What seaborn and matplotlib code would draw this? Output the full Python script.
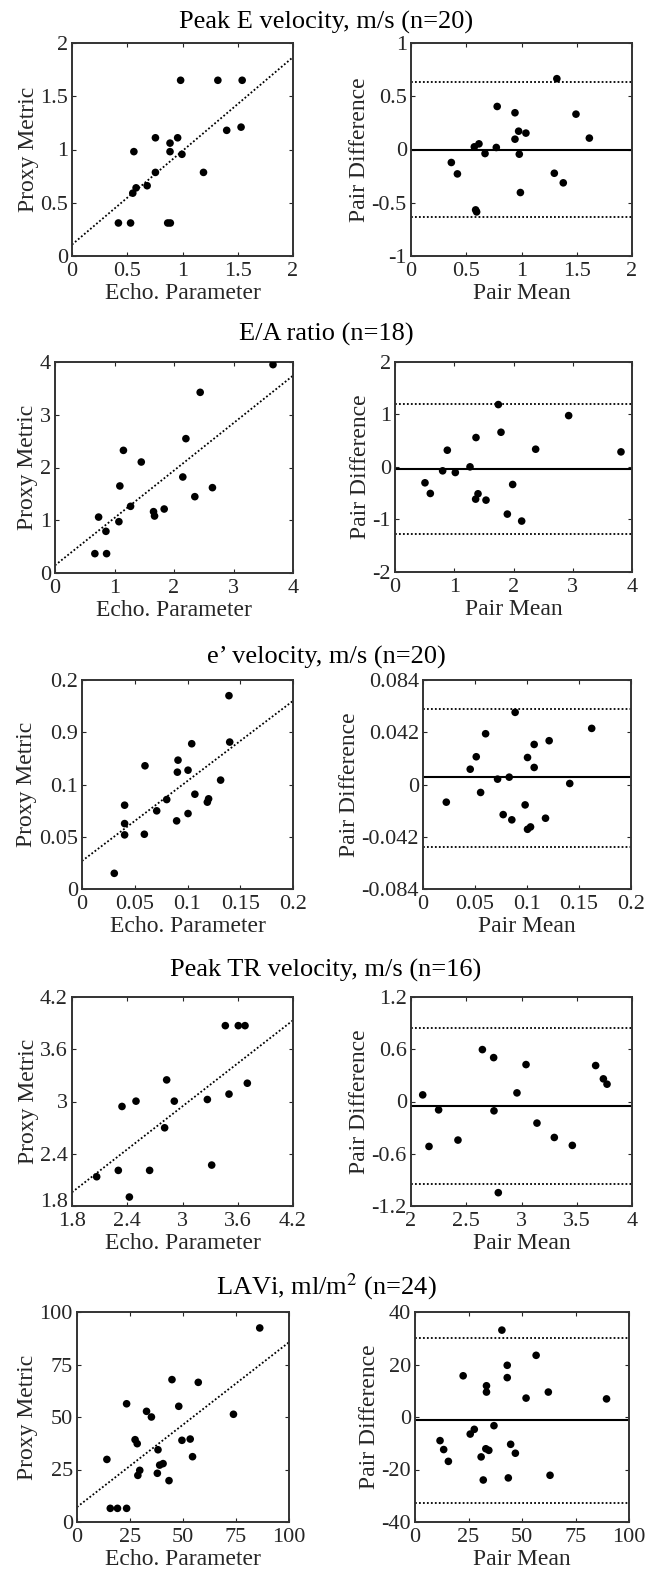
"""
Echo vs proxy metric: scatter with fit line (left) and Bland-Altman (right)
for five echo parameters. Saves out.png.
"""
import matplotlib
matplotlib.use("Agg")
import matplotlib.pyplot as plt
import matplotlib.transforms as mtransforms
import pandas as pd
import seaborn as sns

sns.set_theme(style="ticks")
plt.rcParams["font.family"] = ["Liberation Serif", "DejaVu Serif"]
plt.rcParams["mathtext.fontset"] = "stix"

TXT = "#262626"

# ---- Peak E velocity ----
pe_echo = [0.42, 0.53, 0.55, 0.58, 0.56, 0.68, 0.755, 0.755, 0.866, 0.89,
           0.887, 0.887, 0.956, 0.983, 0.995, 1.19, 1.32, 1.40, 1.53, 1.54]
pe_proxy = [0.31, 0.31, 0.59, 0.64, 0.98, 0.66, 1.11, 0.785, 0.31, 0.31,
            1.06, 0.98, 1.11, 1.65, 0.955, 0.785, 1.65, 1.18, 1.21, 1.65]
pe_mean = [0.365, 0.42, 0.573, 0.615, 0.585, 0.594, 0.67, 0.78, 0.772, 0.941,
           0.941, 0.974, 0.98, 0.99, 1.04, 1.297, 1.32, 1.378, 1.493, 1.614]
pe_diff = [-0.122, -0.229, 0.025, 0.053, -0.567, -0.586, -0.038, 0.404, 0.019, 0.345,
           0.097, 0.172, -0.044, -0.404, 0.154, -0.223, 0.665, -0.313, 0.332, 0.107]
pe_fit = (0.107, 0.88)          # intercept, slope
pe_ba = (0.0, 0.63, -0.635)     # bias, upper, lower

# ---- E/A ratio ----
ea_echo = [0.67, 0.867, 0.733, 0.856, 1.074, 1.09, 1.15, 1.27, 1.45, 1.656,
           1.673, 1.835, 2.148, 2.20, 2.35, 2.44, 2.646, 3.664]
ea_proxy = [0.367, 0.367, 1.06, 0.79, 0.973, 1.65, 2.325, 1.264, 2.104, 1.163,
            1.08, 1.213, 1.82, 2.547, 1.447, 3.425, 1.618, 3.95]
ea_mean = [0.506, 0.596, 0.804, 0.883, 1.018, 1.266, 1.367, 1.361, 1.401, 1.536,
           1.744, 1.789, 1.896, 1.986, 2.138, 2.374, 2.931, 3.814]
ea_diff = [-0.301, -0.504, -0.073, 0.32, -0.105, 0.003, 0.561, -0.612, -0.51, -0.631,
           1.189, 0.662, -0.897, -0.333, -1.03, 0.339, 0.979, 0.288]
ea_fit = (0.145, 0.899)
ea_ba = (-0.041, 1.195, -1.277)

# ---- e' velocity ----
ev_echo = [0.0306, 0.0404, 0.0404, 0.0404, 0.0591, 0.0597, 0.0708, 0.0803, 0.0897, 0.0904,
           0.091, 0.1005, 0.1005, 0.104, 0.107, 0.1188, 0.12, 0.1314, 0.1393, 0.14]
ev_proxy = [0.0150, 0.0802, 0.0626, 0.0518, 0.0524, 0.1179, 0.0748, 0.0856, 0.0652, 0.1118,
            0.1233, 0.1137, 0.0722, 0.139, 0.0907, 0.0831, 0.0863, 0.1042, 0.185, 0.1406]
ev_mean = [0.0224, 0.0454, 0.0512, 0.0554, 0.0602, 0.0717, 0.0771, 0.0829, 0.0854, 0.0886,
           0.0982, 0.1005, 0.1005, 0.1034, 0.1069, 0.1069, 0.1178, 0.1213, 0.1411, 0.1622]
ev_diff = [-0.0142, 0.0123, 0.0223, -0.0064, 0.0408, 0.0043, -0.0242, 0.0059, -0.0284, 0.058,
           -0.0164, 0.0217, -0.036, -0.0341, 0.0137, 0.0322, -0.0271, 0.0352, 0.0008, 0.0451]
ev_fit = (0.0268, 0.766)
ev_ba = (0.0059, 0.0609, -0.0502)

# ---- Peak TR velocity ----
tr_echo = [2.068, 2.303, 2.343, 2.423, 2.495, 2.643, 2.806, 2.828, 2.911, 3.27,
           3.317, 3.465, 3.505, 3.606, 3.679, 3.704]
tr_proxy = [2.136, 2.209, 2.943, 1.903, 3.004, 2.209, 2.698, 3.248, 3.004, 3.023,
            2.27, 3.871, 3.085, 3.871, 3.871, 3.21]
tr_mean = [2.106, 2.163, 2.25, 2.425, 2.646, 2.748, 2.751, 2.79, 2.959, 3.041,
           3.14, 3.297, 3.46, 3.671, 3.741, 3.774]
tr_diff = [0.076, -0.516, -0.096, -0.443, 0.596, 0.504, -0.107, -1.047, 0.099, 0.424,
           -0.248, -0.413, -0.504, 0.413, 0.26, 0.199]
tr_fit = (0.476, 0.823)
tr_ba = (-0.05, 0.841, -0.944)

# ---- LAVi ----
la_echo = [14.1, 15.7, 19.1, 23.4, 23.4, 27.4, 28.4, 28.7, 29.6, 32.8, 35.1, 37.9,
           38.2, 39.0, 40.6, 43.4, 44.8, 48.0, 49.5, 53.4, 54.5, 57.2, 73.8, 86.2]
la_proxy = [29.8, 6.5, 6.5, 6.5, 56.3, 39.2, 37.3, 22.2, 24.6, 52.7, 50.0, 23.2,
            34.4, 27.1, 27.8, 19.7, 67.8, 55.1, 38.9, 39.5, 31.1, 66.5, 51.3, 92.4]
la_mean = [11.7, 13.4, 15.6, 22.5, 25.8, 27.7, 30.9, 31.9, 33.1, 33.4, 33.4, 34.5,
           36.9, 40.6, 43.1, 43.1, 43.6, 44.7, 46.9, 51.9, 56.6, 62.3, 63.1, 89.5]
la_diff = [-9.0, -12.4, -16.9, 15.7, -6.5, -4.7, -15.2, -24.0, -12.1, 11.9, 9.5, -12.7,
           -3.3, 33.1, 19.7, 15.0, -23.2, -10.4, -13.8, 7.2, 23.5, 9.5, -22.2, 6.9]
la_fit = (7.1, 0.785)
la_ba = (-1.0, 30.0, -32.8)

titles = ["Peak E velocity, m/s (n=20)", "E/A ratio (n=18)", "e\u2019 velocity, m/s (n=20)",
          "Peak TR velocity, m/s (n=16)", "LAVi, ml/m$^2$ (n=24)"]

panels = [
    dict(echo=pe_echo, proxy=pe_proxy, mean=pe_mean, diff=pe_diff, fit=pe_fit, ba=pe_ba,
         lx=(0, 2), lxt=[0, 0.5, 1, 1.5, 2], lyt=[0, 0.5, 1, 1.5, 2], lyl=None,
         rx=(0, 2), rxt=[0, 0.5, 1, 1.5, 2], ry=(-1, 1), ryt=[-1, -0.5, 0, 0.5, 1]),
    dict(echo=ea_echo, proxy=ea_proxy, mean=ea_mean, diff=ea_diff, fit=ea_fit, ba=ea_ba,
         lx=(0, 4), lxt=[0, 1, 2, 3, 4], lyt=[0, 1, 2, 3, 4], lyl=None,
         rx=(0, 4), rxt=[0, 1, 2, 3, 4], ry=(-2, 2), ryt=[-2, -1, 0, 1, 2]),
    dict(echo=ev_echo, proxy=ev_proxy, mean=ev_mean, diff=ev_diff, fit=ev_fit, ba=ev_ba,
         lx=(0, 0.2), lxt=[0, 0.05, 0.1, 0.15, 0.2], lyt=[0, 0.05, 0.1, 0.15, 0.2],
         lyl=["0", "0.05", "0.1", "0.9", "0.2"],
         rx=(0, 0.2), rxt=[0, 0.05, 0.1, 0.15, 0.2], ry=(-0.084, 0.084),
         ryt=[-0.084, -0.042, 0, 0.042, 0.084]),
    dict(echo=tr_echo, proxy=tr_proxy, mean=tr_mean, diff=tr_diff, fit=tr_fit, ba=tr_ba,
         lx=(1.8, 4.2), lxt=[1.8, 2.4, 3, 3.6, 4.2], lyt=[1.8, 2.4, 3, 3.6, 4.2], lyl=None,
         rx=(2, 4), rxt=[2, 2.5, 3, 3.5, 4], ry=(-1.2, 1.2), ryt=[-1.2, -0.6, 0, 0.6, 1.2]),
    dict(echo=la_echo, proxy=la_proxy, mean=la_mean, diff=la_diff, fit=la_fit, ba=la_ba,
         lx=(0, 100), lxt=[0, 25, 50, 75, 100], lyt=[0, 25, 50, 75, 100], lyl=None,
         rx=(0, 100), rxt=[0, 25, 50, 75, 100], ry=(-40, 40), ryt=[-40, -20, 0, 20, 40]),
]

# axes boxes in pixels: (left, right, top, bottom)
W, H = 652, 1579
boxes = [
    ((72, 293, 43, 256), (411, 632, 43, 256)),
    ((55, 293, 362, 573), (395, 632, 362, 572)),
    ((82, 293, 680, 889), (423, 631, 680, 889)),
    ((72, 293, 997, 1206), (411, 632, 997, 1206)),
    ((77, 289, 1312, 1522), (415, 629, 1312, 1522)),
]
title_y = [22, 334, 657, 970, 1287]


def fmt(v):
    return ("%g" % v)


def style_ax(ax):
    for sp in ax.spines.values():
        sp.set_visible(True)
        sp.set_linewidth(1.4)
        sp.set_color("#333333")
    ax.tick_params(direction="in", top=True, right=True, length=3, width=0.8,
                   labelsize=16, colors=TXT)
    ax.tick_params(axis="x", pad=4)
    ax.tick_params(axis="y", pad=3)
    ax.grid(False)


fig = plt.figure(figsize=(W / 100, H / 100), dpi=100)

for i, p in enumerate(panels):
    (l1, r1, t1, b1), (l2, r2, t2, b2) = boxes[i]
    axl = fig.add_axes([l1 / W, 1 - b1 / H, (r1 - l1) / W, (b1 - t1) / H])
    axr = fig.add_axes([l2 / W, 1 - b2 / H, (r2 - l2) / W, (b2 - t2) / H])

    # left: echo vs proxy with fit line
    df = pd.DataFrame({"echo": p["echo"], "proxy": p["proxy"]})
    sns.scatterplot(data=df, x="echo", y="proxy", ax=axl, color="black",
                    s=30, edgecolor="none", zorder=3)
    b0, b1s = p["fit"]
    axl.axline((0, b0), slope=b1s, color="black", ls=(0, (1, 1.2)), lw=1.3)
    axl.set_xlim(*p["lx"])
    axl.set_ylim(p["lyt"][0], p["lyt"][-1])
    axl.set_xticks(p["lxt"])
    axl.set_xticklabels([fmt(v) for v in p["lxt"]])
    axl.set_yticks(p["lyt"])
    axl.set_yticklabels(p["lyl"] if p["lyl"] else [fmt(v) for v in p["lyt"]])
    axl.set_xlabel("Echo. Parameter", fontsize=17, color=TXT, labelpad=2)
    axl.set_ylabel("Proxy Metric", fontsize=17, color=TXT, labelpad=1)
    style_ax(axl)
    if p["lyt"][0] != 0:
        # lowest y label sits right on the corner: nudge it up a touch
        lab = axl.get_yticklabels()[0]
        lab.set_transform(lab.get_transform() +
                          mtransforms.ScaledTranslation(0, 4 / 72, fig.dpi_scale_trans))

    # right: Bland-Altman
    dr = pd.DataFrame({"mean": p["mean"], "diff": p["diff"]})
    sns.scatterplot(data=dr, x="mean", y="diff", ax=axr, color="black",
                    s=30, edgecolor="none", zorder=3)
    bias, up, lo = p["ba"]
    axr.axhline(bias, color="black", lw=1.5)
    axr.axhline(up, color="black", ls=(0, (1, 1.2)), lw=1.3)
    axr.axhline(lo, color="black", ls=(0, (1, 1.2)), lw=1.3)
    axr.set_xlim(*p["rx"])
    axr.set_ylim(*p["ry"])
    axr.set_xticks(p["rxt"])
    axr.set_xticklabels([fmt(v) for v in p["rxt"]])
    axr.set_yticks(p["ryt"])
    axr.set_yticklabels([fmt(v) for v in p["ryt"]])
    axr.set_xlabel("Pair Mean", fontsize=17, color=TXT, labelpad=2)
    axr.set_ylabel("Pair Difference", fontsize=17, color=TXT, labelpad=1)
    style_ax(axr)

    fig.text(0.5, 1 - title_y[i] / H, titles[i], ha="center", va="center",
             fontsize=19, color="black")

fig.savefig("out.png", dpi=100)
plt.close(fig)
